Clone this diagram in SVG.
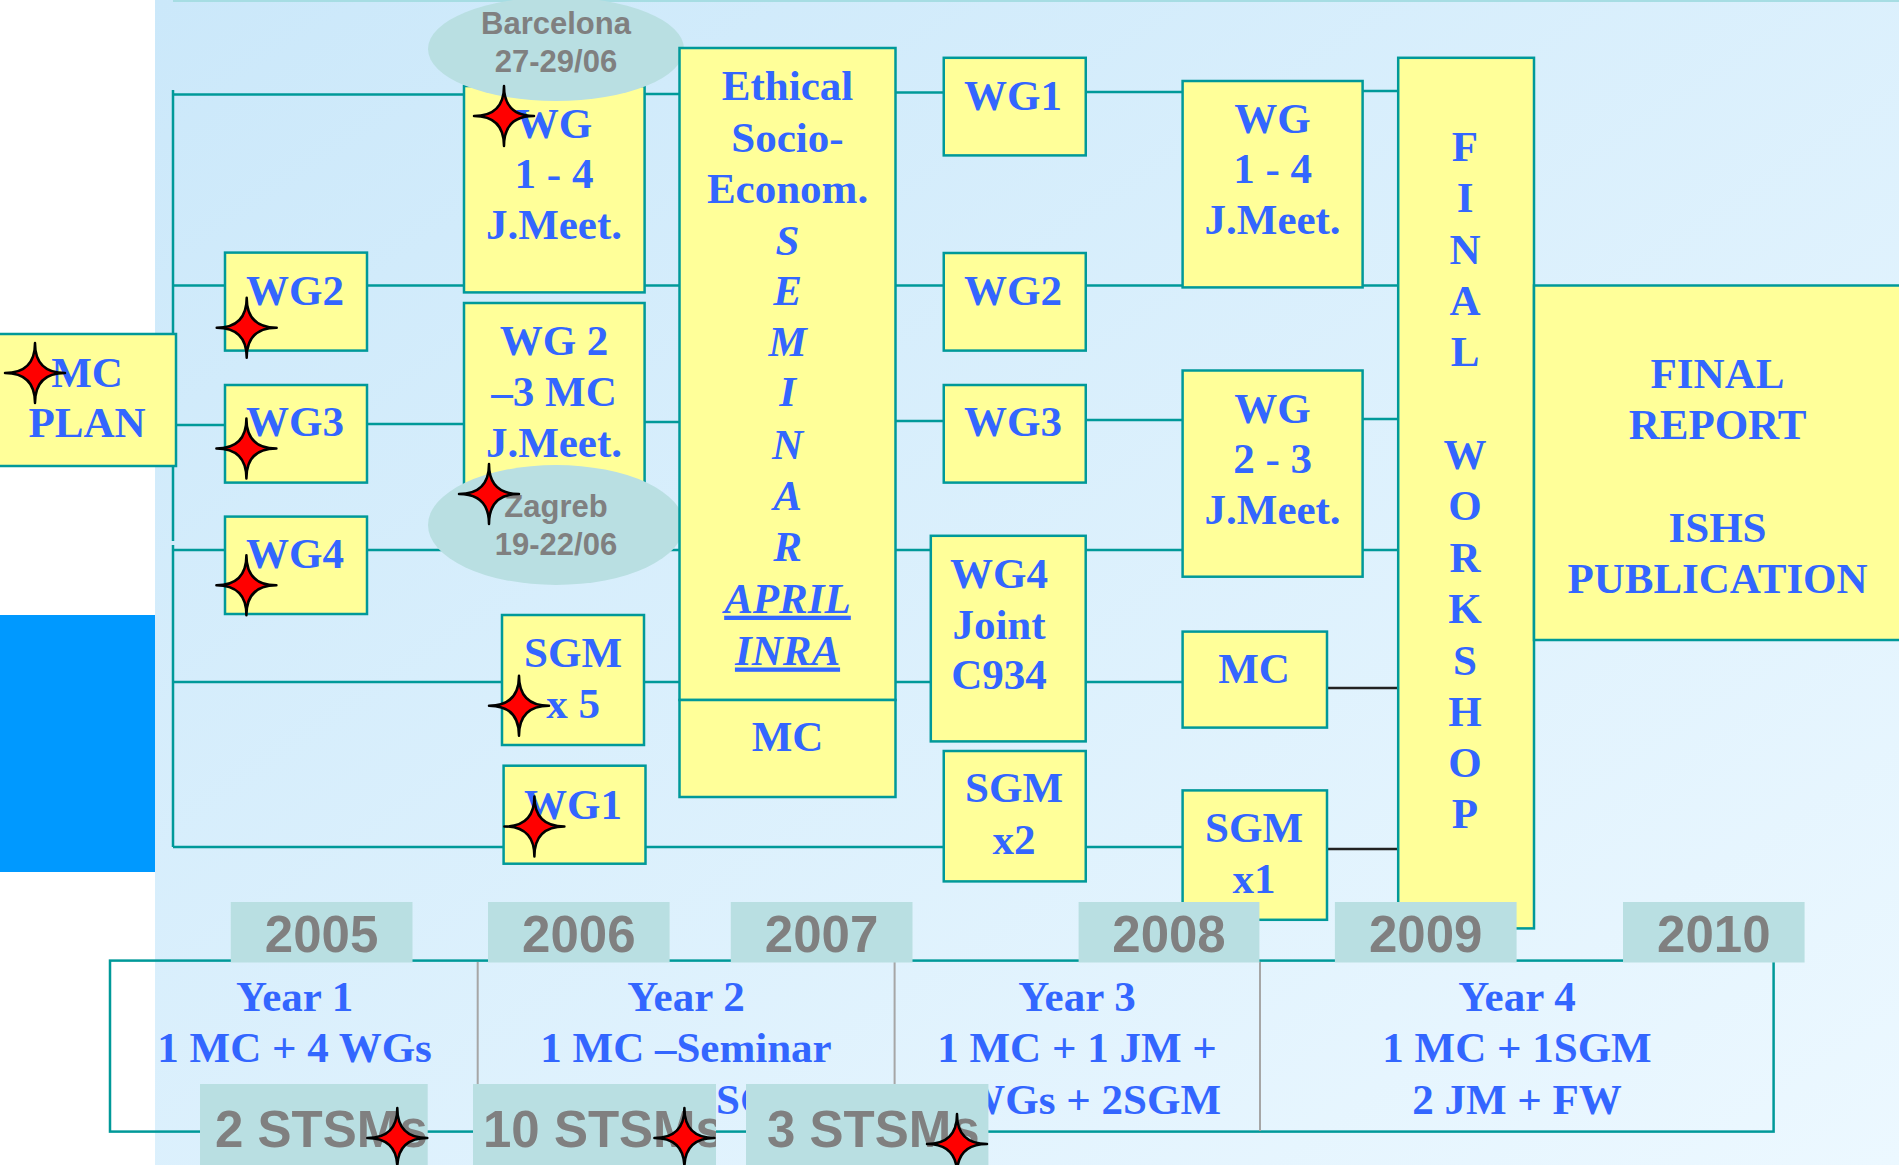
<svg xmlns="http://www.w3.org/2000/svg" width="1899" height="1165" viewBox="0 0 1899 1165">
<defs>
<linearGradient id="bg" x1="0" y1="0" x2="1" y2="1">
<stop offset="0" stop-color="#CBE8FA"/>
<stop offset="1" stop-color="#ECF8FF"/>
</linearGradient>
<path id="star" d="M0,-30 Q0,0 30,0 Q0,0 0,30 Q0,0 -30,0 Q0,0 0,-30 Z"/>
<style>
.box{fill:#FFFF99;stroke:#009999;stroke-width:2.5}
.ln{stroke:#009999;stroke-width:2.5;fill:none}
.bl{stroke:#222222;stroke-width:2.5;fill:none}
.t{font-family:"Liberation Serif","Times New Roman",serif;font-weight:bold;font-size:43px;fill:#3366FF;text-anchor:middle}
.it{font-style:italic}
.g{font-family:"Liberation Sans",Arial,sans-serif;font-weight:bold;fill:#808080}
.yb{fill:#B9DFE2}
.st{fill:#FF0000;stroke:#000000;stroke-width:2.5;stroke-linejoin:round}
</style>
</defs>
<rect x="0" y="0" width="1899" height="1165" fill="#FFFFFF"/>
<rect x="155" y="0" width="1744" height="1165" fill="url(#bg)"/>
<rect x="0" y="615" width="155" height="257" fill="#0099FF"/>
<line x1="173" y1="1" x2="1899" y2="1" stroke="#A6DDE3" stroke-width="2"/>

<g id="connectors">
<path class="ln" d="M173,90 V541 M173,545 V847"/>
<path class="ln" d="M173,94.5 H464 M645,94 H679.5 M895.5,92.5 H943.75 M1085.7,92 H1182.6 M1362.6,91 H1398"/>
<path class="ln" d="M173,285.5 H225 M367,285.5 H464 M645,285.5 H679.5 M895.5,285.5 H943.75 M1085.7,285.5 H1182.6 M1362.6,285.5 H1398"/>
<path class="ln" d="M176,425 H225 M367,424 H464 M645,422 H679.5 M895.5,421 H943.75 M1085.7,420 H1182.6 M1362.6,419 H1398"/>
<path class="ln" d="M173,550 H225 M367,550 H679.5 M895.5,550 H930.8 M1085.7,550 H1182.6 M1362.6,550 H1398"/>
<path class="ln" d="M173,682 H502 M644,682 H679.5 M895.5,682 H930.8 M1085.7,682 H1182.6"/>
<path class="ln" d="M173,847 H503.6 M645.5,847 H943.75 M1085.7,847 H1182.6"/>
<path class="bl" d="M1327,688 H1398 M1327,849 H1398"/>
</g>

<g id="mc-plan">
<rect class="box" x="-2" y="334" width="178" height="132"/>
<text class="t" x="87" y="386.5">MC</text>
<text class="t" x="87" y="437.4">PLAN</text>
</g>
<g id="wg2-left">
<rect class="box" x="225" y="252.6" width="142" height="98"/>
<text class="t" x="295" y="305">WG2</text>
</g>
<g id="wg3-left">
<rect class="box" x="225" y="385" width="142" height="97.6"/>
<text class="t" x="295" y="436">WG3</text>
</g>
<g id="wg4-left">
<rect class="box" x="225" y="516.6" width="142" height="97.4"/>
<text class="t" x="295" y="568">WG4</text>
</g>
<g id="wg14-jm-2006">
<rect class="box" x="464" y="86" width="180.6" height="206.4"/>
<text class="t" x="554" y="137.8">WG</text>
<text class="t" x="554" y="188">1 - 4</text>
<text class="t" x="554" y="239">J.Meet.</text>
</g>
<g id="wg23-mc-jm">
<rect class="box" x="464" y="303" width="180.6" height="205"/>
<text class="t" x="554" y="354.8">WG 2</text>
<text class="t" x="554" y="405.7">–3 MC</text>
<text class="t" x="554" y="457.3">J.Meet.</text>
</g>
<g id="sgm-x5">
<rect class="box" x="502" y="615" width="142" height="130"/>
<text class="t" x="573" y="666.5">SGM</text>
<text class="t" x="573" y="718">x 5</text>
</g>
<g id="wg1-lower">
<rect class="box" x="503.6" y="765.7" width="141.9" height="98"/>
<text class="t" x="573" y="818.6">WG1</text>
</g>
<g id="barcelona">
<ellipse cx="556" cy="49" rx="128" ry="52" fill="#B9DFE2"/>
<text class="g" x="556" y="33.7" font-size="31" text-anchor="middle">Barcelona</text>
<text class="g" x="556" y="71.6" font-size="31" text-anchor="middle">27-29/06</text>
</g>
<g id="zagreb">
<ellipse cx="556" cy="525" rx="128" ry="60" fill="#B9DFE2"/>
<text class="g" x="556" y="517" font-size="31" text-anchor="middle">Zagreb</text>
<text class="g" x="556" y="555" font-size="31" text-anchor="middle">19-22/06</text>
</g>
<g id="seminar">
<rect class="box" x="679.5" y="48" width="216" height="652"/>
<text class="t" x="787.5" y="100.3">Ethical</text>
<text class="t" x="787.5" y="152">Socio-</text>
<text class="t" x="787.5" y="202.8">Econom.</text>
<text class="t it" x="787.5" y="254.5">S</text>
<text class="t it" x="787.5" y="305">E</text>
<text class="t it" x="787.5" y="356">M</text>
<text class="t it" x="787.5" y="406.4">I</text>
<text class="t it" x="787.5" y="458.5">N</text>
<text class="t it" x="787.5" y="510">A</text>
<text class="t it" x="787.5" y="561.4">R</text>
<text class="t it" x="787.5" y="612.7" text-decoration="underline">APRIL</text>
<text class="t it" x="787.5" y="664.5" text-decoration="underline">INRA</text>
</g>
<g id="seminar-mc">
<rect class="box" x="679.5" y="700" width="216" height="97"/>
<text class="t" x="787.5" y="750.8">MC</text>
</g>
<g id="wg1-2007">
<rect class="box" x="943.75" y="57.8" width="142" height="97.6"/>
<text class="t" x="1013" y="109.8">WG1</text>
</g>
<g id="wg2-2007">
<rect class="box" x="943.75" y="253" width="142" height="97.6"/>
<text class="t" x="1013" y="305">WG2</text>
</g>
<g id="wg3-2007">
<rect class="box" x="943.75" y="385" width="142" height="97.6"/>
<text class="t" x="1013" y="436">WG3</text>
</g>
<g id="wg4-joint">
<rect class="box" x="930.8" y="535.8" width="154.9" height="205.6"/>
<text class="t" x="999" y="588">WG4</text>
<text class="t" x="999" y="639">Joint</text>
<text class="t" x="999" y="689">C934</text>
</g>
<g id="sgm-x2">
<rect class="box" x="943.75" y="751" width="142" height="130.4"/>
<text class="t" x="1014" y="802">SGM</text>
<text class="t" x="1014" y="854">x2</text>
</g>
<g id="wg14-jm-2008">
<rect class="box" x="1182.6" y="81" width="180" height="206.4"/>
<text class="t" x="1272.6" y="133">WG</text>
<text class="t" x="1272.6" y="183.3">1 - 4</text>
<text class="t" x="1272.6" y="234.2">J.Meet.</text>
</g>
<g id="wg23-jm-2008">
<rect class="box" x="1182.6" y="370.5" width="180" height="206.2"/>
<text class="t" x="1272.6" y="423">WG</text>
<text class="t" x="1272.6" y="473.4">2 - 3</text>
<text class="t" x="1272.6" y="523.5">J.Meet.</text>
</g>
<g id="mc-2008">
<rect class="box" x="1182.6" y="631.6" width="144.4" height="96"/>
<text class="t" x="1254" y="683.3">MC</text>
</g>
<g id="sgm-x1">
<rect class="box" x="1182.6" y="790.4" width="144.4" height="129.4"/>
<text class="t" x="1254" y="842">SGM</text>
<text class="t" x="1254" y="893">x1</text>
</g>
<g id="final-workshop">
<rect class="box" x="1398.2" y="57.8" width="135.8" height="870.6"/>
<text class="t" x="1465" y="160.7">F</text>
<text class="t" x="1465" y="212">I</text>
<text class="t" x="1465" y="263.5">N</text>
<text class="t" x="1465" y="315">A</text>
<text class="t" x="1465" y="366">L</text>
<text class="t" x="1465" y="469">W</text>
<text class="t" x="1465" y="520">O</text>
<text class="t" x="1465" y="572">R</text>
<text class="t" x="1465" y="623">K</text>
<text class="t" x="1465" y="674.5">S</text>
<text class="t" x="1465" y="725.5">H</text>
<text class="t" x="1465" y="777">O</text>
<text class="t" x="1465" y="827.5">P</text>
</g>
<g id="final-report">
<rect class="box" x="1534" y="285.5" width="370" height="354.5"/>
<text class="t" x="1717.5" y="388.4">FINAL</text>
<text class="t" x="1717.5" y="439.3">REPORT</text>
<text class="t" x="1717.5" y="542.3">ISHS</text>
<text class="t" x="1717.5" y="593">PUBLICATION</text>
</g>

<g id="timeline">
<rect x="110" y="960.6" width="1663.6" height="171" fill="none" stroke="#009999" stroke-width="2.5"/>
<path d="M477.7,962 V1131 M894.6,962 V1131 M1260,962 V1131" stroke="#A6A6A6" stroke-width="2" fill="none"/>
<text class="t" x="294.6" y="1010.8">Year 1</text>
<text class="t" x="294.6" y="1061.8">1 MC + 4 WGs</text>
<text class="t" x="686" y="1010.8">Year 2</text>
<text class="t" x="686" y="1061.8">1 MC –Seminar</text>
<text class="t" x="716" y="1114" style="text-anchor:start">SG</text>
<text class="t" x="1077" y="1010.8">Year 3</text>
<text class="t" x="1077" y="1062">1 MC + 1 JM +</text>
<text class="t" x="1221" y="1114" style="text-anchor:end">WGs + 2SGM</text>
<text class="t" x="1517" y="1010.8">Year 4</text>
<text class="t" x="1517" y="1062">1 MC + 1SGM</text>
<text class="t" x="1517" y="1114">2 JM + FW</text>
</g>
<g id="years">
<rect class="yb" x="230.8" y="902" width="181.7" height="60.5"/>
<text class="g" x="321.6" y="951.6" font-size="51" text-anchor="middle">2005</text>
<rect class="yb" x="488" y="902" width="181.6" height="60.5"/>
<text class="g" x="578.8" y="951.6" font-size="51" text-anchor="middle">2006</text>
<rect class="yb" x="730.8" y="902" width="181.7" height="60.5"/>
<text class="g" x="821.6" y="951.6" font-size="51" text-anchor="middle">2007</text>
<rect class="yb" x="1078.6" y="902" width="180.8" height="60.5"/>
<text class="g" x="1169" y="951.6" font-size="51" text-anchor="middle">2008</text>
<rect class="yb" x="1334.9" y="902" width="181.7" height="60.5"/>
<text class="g" x="1425.7" y="951.6" font-size="51" text-anchor="middle">2009</text>
<rect class="yb" x="1623" y="902" width="181.6" height="60.5"/>
<text class="g" x="1713.8" y="951.6" font-size="51" text-anchor="middle">2010</text>
</g>
<g id="stsms">
<rect class="yb" x="200" y="1084" width="227.7" height="90"/>
<text class="g" x="215" y="1147" font-size="51">2 STSMs</text>
<rect class="yb" x="473" y="1084" width="243" height="90"/>
<svg x="473" y="1084" width="243" height="90" overflow="hidden"><text class="g" x="10" y="63" font-size="51">10 STSMs</text></svg>
<rect class="yb" x="746" y="1084" width="242.4" height="90"/>
<text class="g" x="767" y="1147" font-size="51">3 STSMs</text>
</g>
<g id="stars">
<use href="#star" class="st" x="35" y="373"/>
<use href="#star" class="st" x="504" y="116"/>
<use href="#star" class="st" x="246.7" y="327.7"/>
<use href="#star" class="st" x="246.4" y="448.5"/>
<use href="#star" class="st" x="246.4" y="585.3"/>
<use href="#star" class="st" x="489" y="494"/>
<use href="#star" class="st" x="519" y="705.7"/>
<use href="#star" class="st" x="534.4" y="826.5"/>
<use href="#star" class="st" x="397.3" y="1138"/>
<use href="#star" class="st" x="684.4" y="1138"/>
<use href="#star" class="st" x="957" y="1144"/>
</g>
</svg>
